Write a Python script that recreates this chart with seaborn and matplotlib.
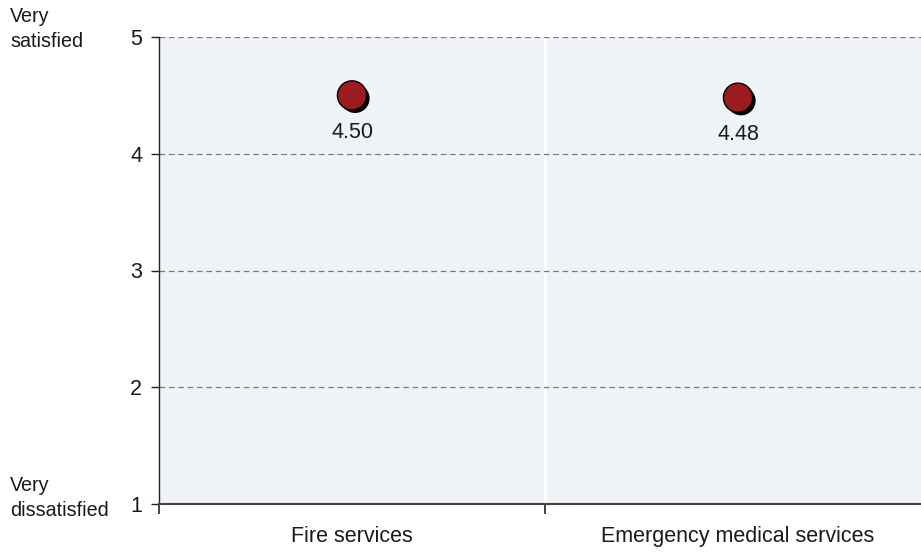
import matplotlib
matplotlib.use("Agg")
import matplotlib.pyplot as plt
import matplotlib.patheffects as pe
import seaborn as sns
import pandas as pd

services = ["Fire services", "Emergency medical services"]
scores = [4.50, 4.48]
y_ticks = [1, 2, 3, 4, 5]

sns.set_theme(style="white")
plt.rcParams["font.family"] = ["Liberation Sans", "DejaVu Sans"]

df = pd.DataFrame({"service": services, "score": scores})

fig = plt.figure(figsize=(9.21, 5.52), dpi=100)
ax = fig.add_axes([159 / 921, 48 / 552, (931 - 159) / 921, (504 - 37) / 552])
ax.set_facecolor("#eff3f7")

sns.scatterplot(data=df, x="service", y="score", ax=ax, s=440,
                color="#9b1b1e", edgecolor="black", linewidth=1.0,
                zorder=5, legend=False)
for coll in ax.collections:
    coll.set_path_effects([pe.SimplePatchShadow(offset=(2.2, -2.2),
                                                shadow_rgbFace="black",
                                                alpha=1.0),
                           pe.Normal()])

for i, v in enumerate(scores):
    ax.annotate(f"{v:.2f}", (i, v), xytext=(0, -26.5), textcoords="offset points",
                ha="center", va="center", fontsize=15.5, color="#1a1a1a",
                zorder=6)

ax.set_xlim(-0.5, 1.5)
ax.set_ylim(1, 5)
ax.set_yticks(y_ticks)
ax.set_yticklabels([str(t) for t in y_ticks], fontsize=15.5, color="#1a1a1a")
ax.set_xticks([0, 1])
ax.set_xticklabels(services, fontsize=15.5, color="#1a1a1a")
ax.set_xticks([-0.5, 0.5, 1.5], minor=True)
ax.tick_params(axis="x", which="major", length=0, pad=16)
ax.tick_params(axis="x", which="minor", length=7, width=1.2, color="#222222",
               direction="out", bottom=True)
ax.tick_params(axis="y", which="major", length=6, width=1.0, color="#222222",
               direction="out", left=True, pad=6)
ax.set_xlabel("")
ax.set_ylabel("")

for t in [2, 3, 4, 5]:
    ax.axhline(t, color="#7a7a7a", linestyle=(0, (4.5, 3)), linewidth=0.9,
               zorder=1)
ax.axvline(0.5, color="white", linewidth=2, zorder=0.5)

for side in ["top", "right"]:
    ax.spines[side].set_visible(False)
ax.spines["left"].set_color("#222222")
ax.spines["left"].set_linewidth(1.0)
ax.spines["bottom"].set_color("#444444")
ax.spines["bottom"].set_linewidth(1.5)

fig.text(10 / 921, 1 - 29 / 552, "Very\nsatisfied", ha="left", va="center",
         fontsize=14.2, color="#1a1a1a", linespacing=1.45)
fig.text(10 / 921, 1 - 498 / 552, "Very\ndissatisfied", ha="left", va="center",
         fontsize=14.2, color="#1a1a1a", linespacing=1.4)

fig.savefig("out.png", dpi=100)
